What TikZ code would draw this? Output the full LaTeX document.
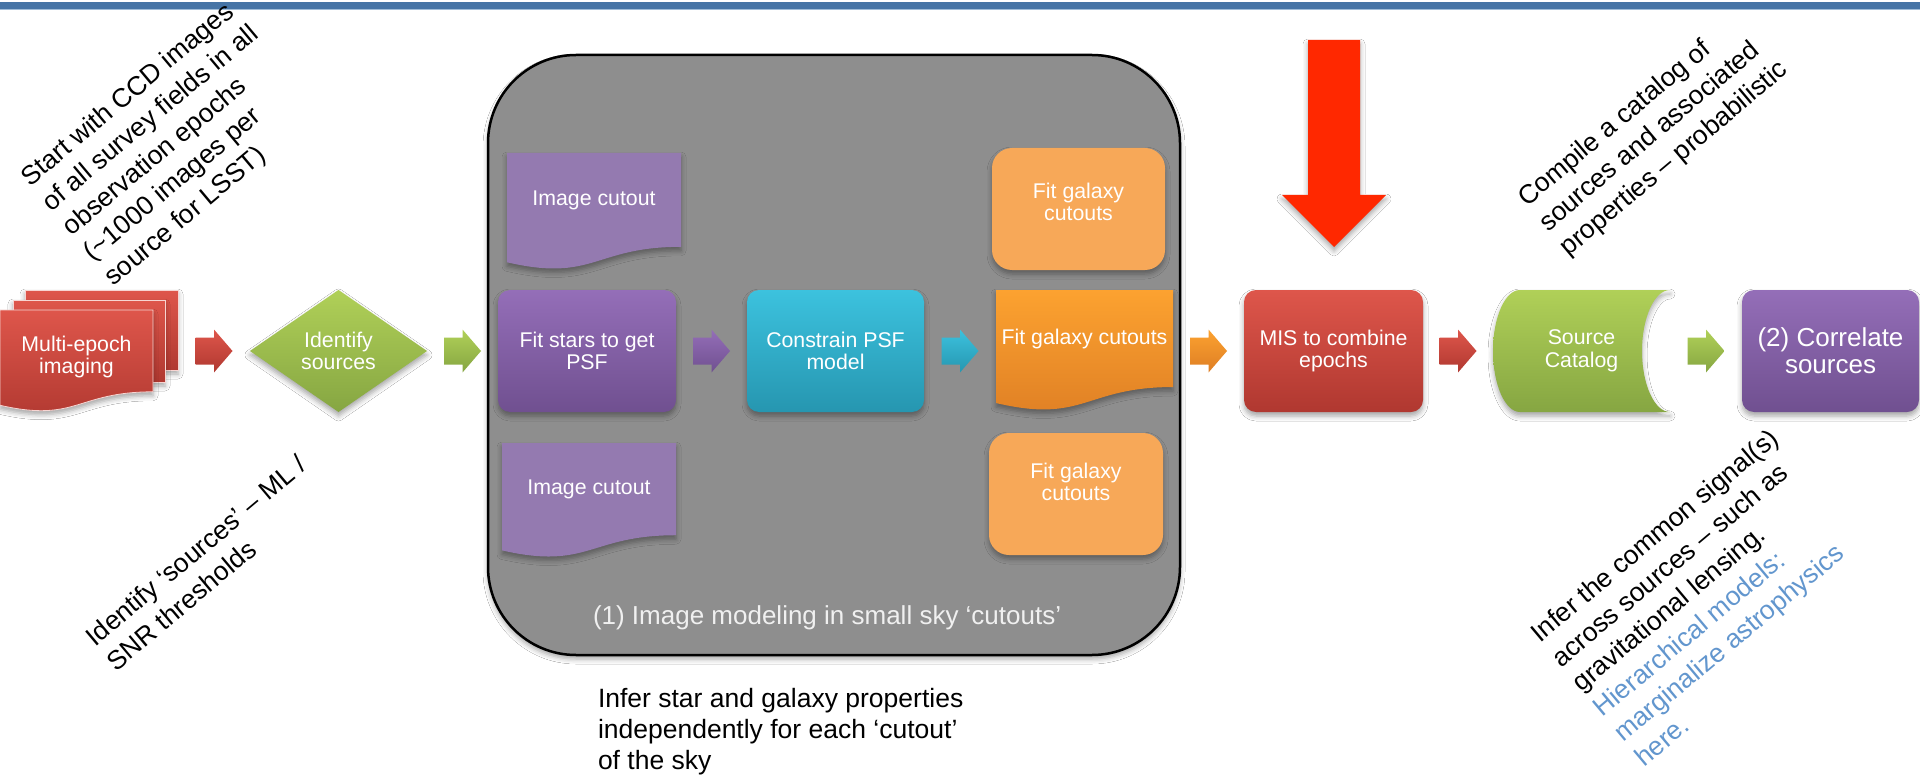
\documentclass[tikz,border=0pt]{standalone}
\usepackage{fontspec}
\setmainfont{Liberation Sans}
\usetikzlibrary{calc,shadows.blur}

% palette
\definecolor{barblue}{RGB}{70,116,166}
\definecolor{barlight}{RGB}{160,188,216}
\definecolor{redtop}{RGB}{222,86,75}
\definecolor{redbot}{RGB}{176,56,48}
\definecolor{greentop}{RGB}{176,208,88}
\definecolor{greenbot}{RGB}{134,166,66}
\definecolor{purptop}{RGB}{148,110,184}
\definecolor{purpbot}{RGB}{112,80,144}
\definecolor{cyantop}{RGB}{60,194,222}
\definecolor{cyanbot}{RGB}{38,150,176}
\definecolor{orangetop}{RGB}{252,162,48}
\definecolor{orangebot}{RGB}{222,126,36}
\definecolor{lightorange}{RGB}{247,168,88}
\definecolor{cutpurple}{RGB}{148,122,176}
\definecolor{panelgray}{RGB}{142,142,142}
\definecolor{bigred}{RGB}{255,40,0}
\definecolor{noteblue}{RGB}{98,150,206}
\definecolor{labelgray}{RGB}{240,240,240}

\newcommand\boxfont{\fontsize{21.3}{22.5}\selectfont}
\newcommand\bigboxfont{\fontsize{26}{27}\selectfont}
\newcommand\notefont{\fontsize{26.5}{31}\selectfont}
\newcommand\tiltfont{\fontsize{26.5}{32.5}\selectfont}

% flowchart "document" outline: options, left x, top y, width, height
\newcommand\docshape[5]{%
  \path[#1] (#2,#3) -- ({#2+#4},#3) -- ({#2+#4},{#3+0.802*#5})
    .. controls ({#2+0.5*#4},{#3+0.802*#5}) and ({#2+0.5*#4},{#3+1.107*#5})
    .. (#2,{#3+0.934*#5}) -- cycle;}

\tikzset{
  every node/.style={inner sep=0pt, outer sep=0pt},
  softshadow/.style={blur shadow={shadow xshift=0pt, shadow yshift=-4pt,
      shadow blur radius=5pt, shadow opacity=35}},
  boxtext/.style={text=white, align=center, font=\boxfont},
  flowbox/.style={boxtext, rounded corners=12pt, minimum width=177,
      minimum height=122, softshadow},
  redgrad/.style={top color=redtop, bottom color=redbot},
  greengrad/.style={top color=greentop, bottom color=greenbot},
  purpgrad/.style={top color=purptop, bottom color=purpbot},
  cyangrad/.style={top color=cyantop, bottom color=cyanbot},
  orangegrad/.style={top color=orangetop, bottom color=orangebot},
  pagebox/.style={redgrad, draw=white!75!redtop, line width=0.8pt, softshadow},
  notetext/.style={font=\notefont, align=left, text=black},
  tilted/.style={font=\tiltfont, align=left, text=black, rotate=40, anchor=north west},
  barrow/.pic={\path[pic actions] (-18.5,-13.5) -- (0,-13.5) -- (0,-21.5)
      -- (18.5,0) -- (0,21.5) -- (0,13.5) -- (-18.5,13.5) -- cycle;},
}

\begin{document}
\begin{tikzpicture}[x=1pt,y=-1pt]
\useasboundingbox (0,0) rectangle (1920,778);
\fill[white] (0,0) rectangle (1920,778);

% header rule
\fill[barblue] (0,2) rectangle (1920,9);
\draw[barlight, line width=0.8pt] (0,9.6) -- (1920,9.6);

% multi-epoch imaging stack
\node[pagebox, minimum width=153, minimum height=80] (me3) at (101.5,330) {};
\node[pagebox, minimum width=152, minimum height=82] (me2) at (89,341) {};
\docshape{redgrad, draw=white!75!redtop, line width=0.8pt, softshadow}{0}{310}{153}{102}
\node[boxtext] (me) at (76.5,357) {Multi-epoch\\imaging};

% source detection (decision diamond)
\node[minimum width=177, minimum height=122] (id) at (338.5,351) {};
\path[greengrad, softshadow] (id.north) -- (id.east) -- (id.south) -- (id.west) -- cycle;
\node[boxtext] (idt) at (id.center) {Identify\\sources};

% image modelling panel
\node[draw=black, line width=2.5pt, fill=panelgray, rounded corners=88pt,
      minimum width=692, minimum height=600, softshadow] (panel) at (834,355) {};
\node[anchor=base west, text=labelgray, font=\fontsize{26}{30}\selectfont]
      (panellabel) at (593,624) {(1) Image modeling in small sky ‘cutouts’};

\docshape{fill=cutpurple, softshadow}{507}{153}{174}{117}
\node[boxtext, minimum width=174, minimum height=94] (cut1) at (594,200) {Image cutout};
\node[flowbox, purpgrad, minimum width=178] (fs) at (587,351) {Fit stars to get\\PSF};
\docshape{fill=cutpurple, softshadow}{502}{443}{174}{115}
\node[boxtext, minimum width=174, minimum height=92] (cut2) at (589,489) {Image cutout};

\node[flowbox, cyangrad] (psf) at (835.5,351) {Constrain PSF\\model};

\node[flowbox, fill=lightorange, rounded corners=20pt, minimum width=173] (gal1) at (1078.5,209) {};
\node[boxtext] (gal1t) at (1078.5,202) {Fit galaxy\\cutouts};
\docshape{orangegrad, softshadow}{996}{290}{177}{121}
\node[boxtext, minimum width=177, minimum height=97] (gal2) at (1084.5,338.5) {Fit galaxy cutouts};
\node[flowbox, fill=lightorange, rounded corners=20pt, minimum width=174] (gal3) at (1076,494) {};
\node[boxtext] (gal3t) at (1076,482) {Fit galaxy\\cutouts};

% combination and catalogue
\node[flowbox, redgrad, minimum width=179] (mis) at (1333.5,351) {MIS to combine\\epochs};
\fill[bigred, softshadow] (1308,40) -- (1360,40) -- (1360,195) -- (1386,195)
      -- (1334,247) -- (1282,195) -- (1308,195) -- cycle;

\path[greengrad, softshadow] (1520,290) -- (1670,290)
      .. controls (1654.5,290) and (1642,317.3) .. (1642,351)
      .. controls (1642,384.7) and (1654.5,412) .. (1670,412)
      -- (1520,412)
      .. controls (1505.1,412) and (1493,384.7) .. (1493,351)
      .. controls (1493,317.3) and (1505.1,290) .. (1520,290) -- cycle;
\node[boxtext, minimum width=177, minimum height=122] (cat) at (1581.5,351) {Source\\Catalog};

\node[flowbox, purpgrad, font=\bigboxfont] (corr) at (1830.5,351) {(2) Correlate\\sources};

% block arrows between stages
\coordinate (a1) at ($(me3.east)!.5!(id.west)$);
\coordinate (a2) at ($(id.east)!.5!(fs.west)$);
\coordinate (a3) at ($(fs.east)!.5!(psf.west)$);
\coordinate (a4) at ($(psf.east)!.5!(gal2.west)$);
\coordinate (a5) at ($(gal2.east)!.5!(mis.west)$);
\coordinate (a6) at ($(mis.east)!.5!(cat.west)$);
\coordinate (a7) at ($(cat.east)!.5!(corr.west)$);
\pic[redgrad, softshadow] at (a1 |- 0,351) {barrow};
\pic[greengrad, softshadow] at (a2 |- 0,351) {barrow};
\pic[purpgrad, softshadow] at (a3 |- 0,351) {barrow};
\pic[cyangrad, softshadow] at (a4 |- 0,351) {barrow};
\pic[orangegrad, softshadow] at (a5 |- 0,351) {barrow};
\pic[redgrad, softshadow] at (a6 |- 0,351) {barrow};
\pic[greengrad, softshadow] at (a7 |- 0,351) {barrow};

% annotations
\node[tilted] (noteccd) at (17.8,172.4)
  {Start with CCD images\\of all survey fields in all\\observation epochs\\(\textasciitilde1000 images per\\source for LSST)};
\node[tilted] (noteid) at (82.8,632.4)
  {Identify ‘sources’ – ML /\\SNR thresholds};
\node[tilted] (notecat) at (1514.8,192.4)
  {Compile a catalog of\\sources and associated\\properties – probabilistic};
\node[tilted] (notesig) at (1527.8,628.4)
  {Infer the common signal(s)\\across sources – such as\\gravitational lensing.\\
   \textcolor{noteblue}{Hierarchical models:}\\
   \textcolor{noteblue}{marginalize astrophysics}\\
   \textcolor{noteblue}{here.}};
\node[notetext, anchor=north west] (notestar) at (598,688)
  {Infer star and galaxy properties\\independently for each ‘cutout’\\of the sky};
\end{tikzpicture}
\end{document}
